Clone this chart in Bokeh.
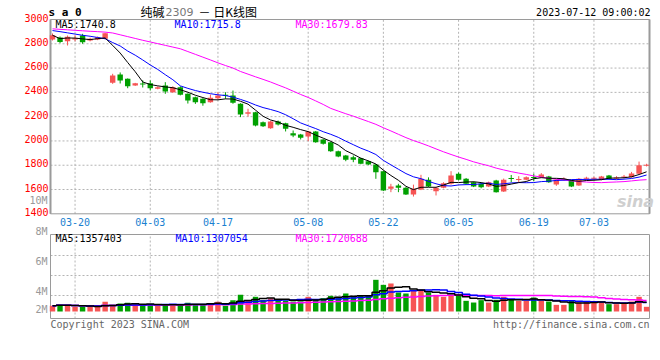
import numpy as np
import pandas as pd
from bokeh.plotting import figure
from bokeh.models import ColumnDataSource, Label, Range1d
from bokeh.embed import file_html
from bokeh.resources import INLINE
from bokeh.core.properties import value

# ---------------- data ----------------
dates = ["03-15", "03-16", "03-17",
         "03-20", "03-21", "03-22", "03-23", "03-24", "03-27", "03-28", "03-29", "03-30", "03-31",
         "04-03", "04-04", "04-06", "04-07",
         "04-10", "04-11", "04-12", "04-13", "04-14", "04-17", "04-18", "04-19", "04-20", "04-21",
         "04-24", "04-25", "04-26", "04-27", "04-28",
         "05-04", "05-05",
         "05-08", "05-09", "05-10", "05-11", "05-12", "05-15", "05-16", "05-17", "05-18", "05-19",
         "05-22", "05-23", "05-24", "05-25", "05-26", "05-29", "05-30", "05-31",
         "06-01", "06-02",
         "06-05", "06-06", "06-07", "06-08", "06-09", "06-12", "06-13", "06-14", "06-15", "06-16",
         "06-19", "06-20", "06-21",
         "06-26", "06-27", "06-28", "06-29", "06-30",
         "07-03", "07-04", "07-05", "07-06", "07-07", "07-10", "07-11", "07-12"]

opens = [2835, 2852, 2821, 2835, 2868, 2827, 2835, 2841, 2479, 2547,
         2512, 2456, 2474, 2475, 2430, 2456, 2401, 2443, 2388, 2360,
         2347, 2319, 2352, 2378, 2374, 2306, 2224, 2237, 2154, 2105,
         2160, 2146, 2064, 2053, 2036, 2078, 2012, 1990, 1915, 1880,
         1866, 1858, 1833, 1806, 1751, 1606, 1633, 1614, 1559, 1600,
         1680, 1586, 1614, 1647, 1729, 1688, 1660, 1647, 1625, 1674,
         1584, 1690, 1678, 1680, 1702, 1702, 1707, 1641, 1680, 1674,
         1633, 1688, 1688, 1680, 1715, 1690, 1698, 1702, 1729, 1795]
highs = [2885, 2860, 2868, 2870, 2882, 2850, 2860, 2890, 2553, 2564,
         2515, 2478, 2500, 2498, 2450, 2484, 2450, 2450, 2392, 2365,
         2352, 2382, 2401, 2401, 2415, 2310, 2265, 2240, 2160, 2165,
         2168, 2150, 2086, 2058, 2082, 2082, 2015, 1995, 1920, 1885,
         1880, 1862, 1838, 1810, 1755, 1647, 1647, 1620, 1640, 1721,
         1700, 1620, 1660, 1751, 1740, 1695, 1665, 1655, 1665, 1680,
         1690, 1720, 1710, 1708, 1730, 1735, 1712, 1685, 1700, 1680,
         1695, 1705, 1705, 1712, 1720, 1710, 1720, 1745, 1830, 1812]
lows = [2827, 2805, 2786, 2820, 2800, 2820, 2830, 2836, 2470, 2473,
        2434, 2453, 2440, 2415, 2425, 2388, 2395, 2375, 2308, 2305,
        2290, 2315, 2339, 2347, 2306, 2196, 2201, 2120, 2115, 2100,
        2127, 2078, 2031, 2012, 1998, 1985, 1970, 1910, 1866, 1833,
        1825, 1808, 1800, 1688, 1588, 1578, 1578, 1555, 1542, 1595,
        1620, 1551, 1610, 1640, 1675, 1640, 1620, 1610, 1620, 1575,
        1580, 1660, 1660, 1676, 1670, 1698, 1655, 1630, 1672, 1620,
        1630, 1675, 1680, 1676, 1685, 1685, 1692, 1698, 1725, 1790]
closes = [2870, 2815, 2858, 2845, 2813, 2841, 2854, 2887, 2539, 2498,
          2451, 2475, 2465, 2434, 2443, 2407, 2443, 2380, 2333, 2319,
          2311, 2355, 2374, 2372, 2314, 2218, 2237, 2127, 2121, 2160,
          2135, 2100, 2045, 2026, 2078, 1990, 1976, 1915, 1872, 1845,
          1845, 1812, 1806, 1743, 1592, 1625, 1614, 1559, 1606, 1688,
          1625, 1614, 1652, 1715, 1680, 1647, 1625, 1619, 1660, 1578,
          1680, 1686, 1682, 1702, 1694, 1724, 1660, 1680, 1685, 1625,
          1688, 1692, 1692, 1707, 1688, 1695, 1702, 1732, 1800, 1800]

# volume in millions of lots
volumes_m = [0.83, 0.98, 0.98, 0.69, 0.69, 0.69, 0.69, 1.42, 0.98, 1.18,
             1.27, 0.83, 1.08, 1.08, 0.83, 1.08, 0.83, 1.08, 1.27, 1.08,
             1.08, 1.23, 1.42, 0.83, 1.67, 2.45, 1.67, 2.16, 1.67, 1.96,
             1.57, 1.57, 1.47, 1.47, 2.16, 1.81, 1.96, 2.30, 2.16, 2.65,
             2.16, 2.30, 2.30, 4.66, 3.92, 4.12, 2.79, 2.65, 3.04, 3.19,
             2.79, 2.45, 2.16, 2.45, 2.30, 1.57, 1.32, 1.67, 1.32, 1.72,
             2.16, 1.81, 1.57, 1.57, 2.06, 1.57, 1.47, 0.98, 0.98, 1.57,
             1.32, 1.47, 1.32, 1.32, 1.08, 1.08, 1.32, 1.47, 2.16, 0.69]

# moving-average values at the left edge (their windows start before the chart)
ma10_early = [2909, 2900, 2890, 2880, 2870, 2862, 2852, 2842, 2810]
ma30_early = [2923, 2919, 2915, 2911, 2907, 2903, 2900, 2896, 2889, 2874,
              2859, 2844, 2829, 2815, 2801, 2787, 2773, 2759, 2736, 2713,
              2690, 2667, 2643, 2621, 2600, 2572, 2550, 2528, 2507]

tick_dates = ["03-20", "04-03", "04-17", "05-08", "05-22", "06-05", "06-19", "07-03"]
price_ticks = [1400, 1600, 1800, 2000, 2200, 2400, 2600, 2800, 3000]
vol_tick_labels = ["10M", "8M", "6M", "4M", "2M"]

title_symbol = "s a 0"
title_name = "纯碱"
title_code = "2309"
title_rest = "－ 日K线图"
timestamp = "2023-07-12 09:00:02"
price_ma_labels = ["MA5:1740.8", "MA10:1715.8", "MA30:1679.83"]
vol_ma_labels = ["MA5:1357403", "MA10:1307054", "MA30:1720688"]
copyright_text = "Copyright 2023 SINA.COM"
url_text = "http://finance.sina.com.cn"

# ---------------- derived series ----------------
n = len(dates)
x = np.arange(n)
o = np.array(opens, float); h = np.array(highs, float)
l = np.array(lows, float); c = np.array(closes, float)
cs = pd.Series(c)
ma5 = cs.rolling(5, min_periods=1).mean().to_numpy()
ma10 = cs.rolling(10, min_periods=1).mean().to_numpy()
ma10[:len(ma10_early)] = ma10_early
ma30 = cs.rolling(30, min_periods=1).mean().to_numpy()
ma30[:len(ma30_early)] = ma30_early

vol = np.array(volumes_m, float)
vs = pd.Series(vol)
vma5 = vs.rolling(5, min_periods=1).mean().to_numpy()
vma10 = vs.rolling(10, min_periods=1).mean().to_numpy()
vma30 = vs.rolling(30, min_periods=1).mean().to_numpy()

RED = "#f65454"
GREEN = "#00a000"
colors = [RED if cc >= oo else GREEN for oo, cc in zip(o, c)]
body_bot = np.minimum(o, c)
body_top = np.maximum(np.maximum(o, c), body_bot + 9)

src = ColumnDataSource(dict(x=x, o=o, h=h, l=l, c=c, bt=body_top, bb=body_bot,
                            color=colors, ma5=ma5, ma10=ma10, ma30=ma30,
                            vol=vol, vma5=vma5, vma10=vma10, vma30=vma30))

tick_pos = [dates.index(d) for d in tick_dates]

# ---------------- pixel layout (one canvas, page coords) ----------------
W, H = 656, 345
PL, PR = 50, 649          # panel left / right edges
PT, PB = 19, 213.3        # price panel top / bottom
VT, VB, V0 = 234, 318, 311  # volume panel top / bottom / zero line
X0, SPAN = 52, 7.52       # first candle centre, px per trading day
P_TOP, P_BOT = price_ticks[-1], price_ticks[0]
PPX = (P_TOP - P_BOT) / (PB - PT)   # price units per px
VPX = 6.8                            # px per million lots


def xi(px):
    return (px - X0) / SPAN


def pv(py):
    return P_TOP - (py - PT) * PPX


def vv(py):
    return (V0 - py) / VPX


MONO = "DejaVu Sans Mono"
GRID = "#b4b4b4"
FRAME = "#9a9a9a"
DATEBLUE = "#1a7fd0"

p = figure(width=W, height=H, x_range=Range1d(xi(0), xi(W)), y_range=Range1d(pv(H), pv(0)),
           output_backend="svg", toolbar_location=None, title=None,
           x_axis_location=None, y_axis_location=None, min_border=0)
p.extra_y_ranges = {"vol": Range1d(vv(H), vv(0))}
p.outline_line_color = None
p.grid.visible = False
p.background_fill_color = "white"
p.border_fill_color = "white"

# grid lines (dotted)
inner_p = price_ticks[1:-1]
p.segment(x0=[xi(PL)] * len(inner_p), y0=inner_p, x1=[xi(PR)] * len(inner_p), y1=inner_p,
          line_color=GRID, line_dash="2 2", line_width=1)
p.segment(x0=tick_pos, y0=[P_BOT] * len(tick_pos), x1=tick_pos, y1=[P_TOP] * len(tick_pos),
          line_color=GRID, line_dash="2 2", line_width=1)
vgrid = [vv(255), vv(275), vv(295)]
p.segment(x0=[xi(PL)] * 3, y0=vgrid, x1=[xi(PR)] * 3, y1=vgrid, line_color=GRID,
          line_dash="2 2", line_width=1, y_range_name="vol")
p.segment(x0=tick_pos, y0=[vv(VB)] * len(tick_pos), x1=tick_pos, y1=[vv(VT)] * len(tick_pos),
          line_color=GRID, line_dash="2 2", line_width=1, y_range_name="vol")

# panel frames
p.quad(left=[xi(PL)], right=[xi(PR)], top=[P_TOP], bottom=[P_BOT], fill_color=None,
       line_color=FRAME, line_width=1)
p.quad(left=[xi(PL)], right=[xi(PR)], top=[vv(VT)], bottom=[vv(VB)], fill_color=None,
       line_color=FRAME, line_width=1, y_range_name="vol")
p.segment(x0=[xi(PL)], y0=[P_BOT], x1=[xi(PL)], y1=[P_TOP], line_color=FRAME, line_width=2)
p.segment(x0=[xi(PR)], y0=[P_BOT], x1=[xi(PR)], y1=[P_TOP], line_color=FRAME, line_width=2)

# candles
p.segment(x0="x", y0="h", x1="x", y1="l", color="color", line_width=1, source=src)
p.vbar(x="x", width=0.72, top="bt", bottom="bb", fill_color="color", line_color=None, source=src)
p.line("x", "ma30", color="#ff00ff", line_width=1, source=src)
p.line("x", "ma10", color="#0000ff", line_width=1, source=src)
p.line("x", "ma5", color="#000000", line_width=1, source=src)

# volume
p.vbar(x="x", width=0.72, top="vol", bottom=0, fill_color="color", line_color=None,
       source=src, y_range_name="vol")
p.step("x", "vma30", mode="center", color="#ff00ff", line_width=1.5, source=src, y_range_name="vol")
p.step("x", "vma10", mode="center", color="#0000ff", line_width=1.5, source=src, y_range_name="vol")
p.step("x", "vma5", mode="center", color="#000000", line_width=1.5, source=src, y_range_name="vol")

# axis tick labels
p.text(x=[xi(PL)] * len(price_ticks), y=price_ticks, text=[str(t) for t in price_ticks],
       x_offset=-2, y_offset=-2, text_align="right", text_baseline="middle",
       text_color="#ff0000", text_font=value(MONO), text_font_size="10px")
p.text(x=tick_pos, y=[P_BOT] * len(tick_pos), text=tick_dates, y_offset=8,
       text_align="center", text_baseline="middle", text_color=DATEBLUE,
       text_font=value(MONO), text_font_size="10px")


def lab(px, py, text, color="black", size="10px", font=MONO, align="left",
        style="normal"):
    p.add_layout(Label(x=px, y=H - py, x_units="screen", y_units="screen", text=text,
                       text_color=color, text_font_size=size, text_font=font,
                       text_align=align, text_baseline="middle", text_font_style=style))


# volume axis labels (sina places them at fixed spots)
for t, py in zip(vol_tick_labels, [200, 231, 261, 291, 309]):
    lab(47, py, t, color="#999999", align="right")

# headings
lab(48, 12, title_symbol, size="11px", style="bold")
lab(140, 10.5, title_name, size="12px", font="Noto Sans CJK SC")
lab(165, 11, title_code, color="#777777", size="11px", font="DejaVu Sans")
lab(198, 10.5, title_rest, size="12px", font="Noto Sans CJK SC")
lab(650, 12, timestamp, align="right")
lab(55, 23.5, price_ma_labels[0], color="#000000")
lab(174, 23.5, price_ma_labels[1], color="#0000ff")
lab(295, 23.5, price_ma_labels[2], color="#ff00ff")
lab(55, 238, vol_ma_labels[0], color="#000000")
lab(175, 238, vol_ma_labels[1], color="#0000ff")
lab(295, 238, vol_ma_labels[2], color="#ff00ff")
lab(50, 323.5, copyright_text, color="#666666")
lab(649, 323.5, url_text, color="#666666", align="right")
lab(635, 201, "sina", color="#cfcfcf", size="16px", font="DejaVu Sans", align="center",
    style="bold italic")

open("out.html", "w").write(file_html(p, INLINE))
